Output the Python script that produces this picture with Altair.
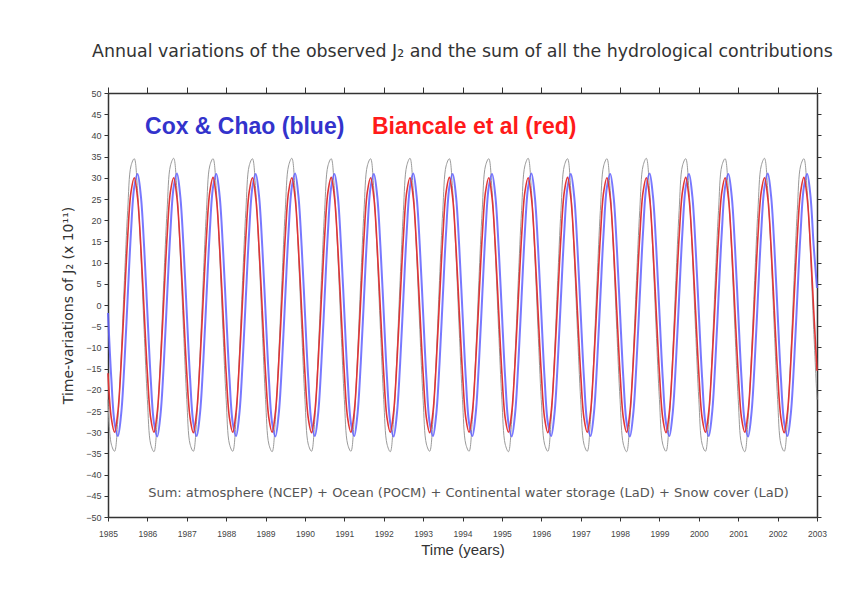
import altair as alt
import pandas as pd

# ---------------- data (monthly samples) ----------------
START_YEAR = 1985
SAMPLES_PER_YEAR = 12

# observed J2 (grey), one row per year, Jan..Dec
observed_rows = [
    [-22.3, -32.8, -34.5, -27.0, -12.2, 5.8, 22.3, 32.8, 34.5, 27.0, 12.2, -5.8],  # 1985
    [-22.3, -32.8, -34.6, -27.0, -12.2, 5.8, 22.3, 32.8, 34.6, 27.0, 12.2, -5.8],  # 1986
    [-22.3, -32.8, -34.5, -27.0, -12.2, 5.8, 22.3, 32.8, 34.5, 27.0, 12.2, -5.8],  # 1987
    [-22.3, -32.8, -34.5, -27.0, -12.2, 5.8, 22.3, 32.8, 34.5, 27.0, 12.2, -5.8],  # 1988
    [-22.3, -32.8, -34.6, -27.0, -12.2, 5.8, 22.3, 32.8, 34.6, 27.0, 12.2, -5.8],  # 1989
    [-22.3, -32.8, -34.5, -27.0, -12.2, 5.8, 22.3, 32.8, 34.5, 27.0, 12.2, -5.8],  # 1990
    [-22.3, -32.8, -34.5, -27.0, -12.2, 5.8, 22.3, 32.8, 34.5, 27.0, 12.2, -5.8],  # 1991
    [-22.3, -32.8, -34.6, -27.0, -12.2, 5.8, 22.3, 32.8, 34.6, 27.0, 12.2, -5.8],  # 1992
    [-22.3, -32.8, -34.5, -27.0, -12.2, 5.8, 22.3, 32.8, 34.5, 27.0, 12.2, -5.8],  # 1993
    [-22.3, -32.8, -34.5, -27.0, -12.2, 5.8, 22.3, 32.8, 34.5, 27.0, 12.2, -5.8],  # 1994
    [-22.3, -32.8, -34.6, -27.0, -12.2, 5.8, 22.3, 32.8, 34.6, 27.0, 12.2, -5.8],  # 1995
    [-22.3, -32.8, -34.5, -27.0, -12.2, 5.8, 22.3, 32.8, 34.5, 27.0, 12.2, -5.8],  # 1996
    [-22.3, -32.8, -34.5, -27.0, -12.2, 5.8, 22.3, 32.8, 34.5, 27.0, 12.2, -5.8],  # 1997
    [-22.3, -32.8, -34.6, -27.0, -12.2, 5.8, 22.3, 32.8, 34.6, 27.0, 12.2, -5.8],  # 1998
    [-22.3, -32.8, -34.5, -27.0, -12.2, 5.8, 22.3, 32.8, 34.5, 27.0, 12.2, -5.8],  # 1999
    [-22.3, -32.8, -34.5, -27.0, -12.2, 5.8, 22.3, 32.8, 34.5, 27.0, 12.2, -5.8],  # 2000
    [-22.3, -32.8, -34.6, -27.0, -12.2, 5.8, 22.3, 32.8, 34.6, 27.0, 12.2, -5.8],  # 2001
    [-22.3, -32.8, -34.5, -27.0, -12.2, 5.8, 22.3, 32.8, 34.5, 27.0, 12.2, -5.8],  # 2002
]
observed_last = -22.3  # 2003.0

# Cox & Chao (blue)
cox_chao_rows = [
    [-1.9, -17.2, -27.8, -30.9, -25.8, -13.8, 1.9, 17.2, 27.8, 30.9, 25.8, 13.8],
    [-1.9, -17.2, -27.8, -31.0, -25.8, -13.8, 1.9, 17.2, 27.8, 31.0, 25.8, 13.8],
    [-1.9, -17.2, -27.8, -30.9, -25.8, -13.8, 1.9, 17.2, 27.8, 30.9, 25.8, 13.8],
    [-1.9, -17.2, -27.8, -30.9, -25.8, -13.8, 1.9, 17.2, 27.8, 30.9, 25.8, 13.8],
    [-1.9, -17.2, -27.8, -31.0, -25.8, -13.8, 1.9, 17.2, 27.8, 31.0, 25.8, 13.8],
    [-1.9, -17.2, -27.8, -30.9, -25.8, -13.8, 1.9, 17.2, 27.8, 30.9, 25.8, 13.8],
    [-1.9, -17.2, -27.8, -30.9, -25.8, -13.8, 1.9, 17.2, 27.8, 30.9, 25.8, 13.8],
    [-1.9, -17.2, -27.8, -31.0, -25.8, -13.8, 1.9, 17.2, 27.8, 31.0, 25.8, 13.8],
    [-1.9, -17.2, -27.8, -30.9, -25.8, -13.8, 1.9, 17.2, 27.8, 30.9, 25.8, 13.8],
    [-1.9, -17.2, -27.8, -30.9, -25.8, -13.8, 1.9, 17.2, 27.8, 30.9, 25.8, 13.8],
    [-1.9, -17.2, -27.8, -31.0, -25.8, -13.8, 1.9, 17.2, 27.8, 31.0, 25.8, 13.8],
    [-1.9, -17.2, -27.8, -30.9, -25.8, -13.8, 1.9, 17.2, 27.8, 30.9, 25.8, 13.8],
    [-1.9, -17.2, -27.8, -30.9, -25.8, -13.8, 1.9, 17.2, 27.8, 30.9, 25.8, 13.8],
    [-1.9, -17.2, -27.8, -31.0, -25.8, -13.8, 1.9, 17.2, 27.8, 31.0, 25.8, 13.8],
    [-1.9, -17.2, -27.8, -30.9, -25.8, -13.8, 1.9, 17.2, 27.8, 30.9, 25.8, 13.8],
    [-1.9, -17.2, -27.8, -30.9, -25.8, -13.8, 1.9, 17.2, 27.8, 30.9, 25.8, 13.8],
    [-1.9, -17.2, -27.8, -31.0, -25.8, -13.8, 1.9, 17.2, 27.8, 31.0, 25.8, 13.8],
    [-1.9, -17.2, -27.8, -30.9, -25.8, -13.8, 1.9, 17.2, 27.8, 30.9, 25.8, 13.8],
]
cox_chao_last = 4.0

# Biancale et al (red)
biancale_rows = [
    [-16.1, -26.6, -30.0, -25.3, -13.9, 1.3, 16.1, 26.6, 30.0, 25.3, 13.9, -1.3],
    [-16.1, -26.6, -30.0, -25.3, -13.9, 1.3, 16.1, 26.6, 30.0, 25.3, 13.9, -1.3],
    [-16.1, -26.6, -30.1, -25.3, -13.9, 1.3, 16.1, 26.6, 30.1, 25.3, 13.9, -1.3],
    [-16.1, -26.6, -30.0, -25.3, -13.9, 1.3, 16.1, 26.6, 30.0, 25.3, 13.9, -1.3],
    [-16.1, -26.6, -30.0, -25.3, -13.9, 1.3, 16.1, 26.6, 30.0, 25.3, 13.9, -1.3],
    [-16.1, -26.6, -30.1, -25.3, -13.9, 1.3, 16.1, 26.6, 30.1, 25.3, 13.9, -1.3],
    [-16.1, -26.6, -30.0, -25.3, -13.9, 1.3, 16.1, 26.6, 30.0, 25.3, 13.9, -1.3],
    [-16.1, -26.6, -30.0, -25.3, -13.9, 1.3, 16.1, 26.6, 30.0, 25.3, 13.9, -1.3],
    [-16.1, -26.6, -30.1, -25.3, -13.9, 1.3, 16.1, 26.6, 30.1, 25.3, 13.9, -1.3],
    [-16.1, -26.6, -30.0, -25.3, -13.9, 1.3, 16.1, 26.6, 30.0, 25.3, 13.9, -1.3],
    [-16.1, -26.6, -30.0, -25.3, -13.9, 1.3, 16.1, 26.6, 30.0, 25.3, 13.9, -1.3],
    [-16.1, -26.6, -30.1, -25.3, -13.9, 1.3, 16.1, 26.6, 30.1, 25.3, 13.9, -1.3],
    [-16.1, -26.6, -30.0, -25.3, -13.9, 1.3, 16.1, 26.6, 30.0, 25.3, 13.9, -1.3],
    [-16.1, -26.6, -30.0, -25.3, -13.9, 1.3, 16.1, 26.6, 30.0, 25.3, 13.9, -1.3],
    [-16.1, -26.6, -30.1, -25.3, -13.9, 1.3, 16.1, 26.6, 30.1, 25.3, 13.9, -1.3],
    [-16.1, -26.6, -30.0, -25.3, -13.9, 1.3, 16.1, 26.6, 30.0, 25.3, 13.9, -1.3],
    [-16.1, -26.6, -30.0, -25.3, -13.9, 1.3, 16.1, 26.6, 30.0, 25.3, 13.9, -1.3],
    [-16.1, -26.6, -30.1, -25.3, -13.9, 1.3, 16.1, 26.6, 30.1, 25.3, 13.9, -1.3],
]
biancale_last = -15.5

year_ticks = list(range(1985, 2004))
value_ticks = list(range(-50, 55, 5))

title_text = "Annual variations of the observed J\u2082 and the sum of all the hydrological contributions"
y_title = "Time-variations of J\u2082 (x 10\u00b9\u00b9)"
x_title = "Time (years)"

label_text = ["Cox & Chao (blue)", "Biancale et al (red)"]
label_year = [1985.94, 1991.70]
label_value = [42.0, 42.0]
label_color = ["#3333cc", "#ff1a1a"]

note_text = ["Sum: atmosphere (NCEP) + Ocean (POCM) + Continental water storage (LaD) + Snow cover (LaD)"]
note_year = [1986.02]
note_value = [-44.3]


def flatten(rows, last):
    out = [v for row in rows for v in row]
    out.append(last)
    return out


def series_frame(rows, last):
    vals = flatten(rows, last)
    return pd.DataFrame({
        "year": [START_YEAR + i / SAMPLES_PER_YEAR for i in range(len(vals))],
        "value": vals,
    })


obs_df = series_frame(observed_rows, observed_last)
cox_df = series_frame(cox_chao_rows, cox_chao_last)
bia_df = series_frame(biancale_rows, biancale_last)
label_df = pd.DataFrame({"year": label_year, "value": label_value, "text": label_text, "color": label_color})
note_df = pd.DataFrame({"year": note_year, "value": note_value, "text": note_text})

# ---------------- scales / axes ----------------
xscale = alt.Scale(domain=[1985, 2003], nice=False, zero=False)
yscale = alt.Scale(domain=[-50, 50], nice=False, zero=False)

AX = dict(
    labelFont="Liberation Sans", labelColor="#444444", tickColor="#333333",
    domainColor="#333333", domainWidth=1.5, tickWidth=1, grid=False,
)

x_bottom = alt.Axis(
    orient="bottom", values=year_ticks, format="d", labelFontSize=8.5,
    tickSize=4, labelPadding=8, title=x_title, titleFont="Liberation Sans",
    titleFontSize=15, titleFontWeight="normal", titleColor="#333333",
    titlePadding=5, labelFlush=False, labelOverlap=False, **AX)
y_left = alt.Axis(
    orient="left", values=value_ticks, labelFontSize=9, tickSize=4,
    labelPadding=3, title=y_title, titleFont="DejaVu Sans",
    titleFontSize=14, titleFontWeight="normal", titleColor="#333333",
    titlePadding=10, labelFlush=False, labelOverlap=False, **AX)
x_top = alt.Axis(orient="top", values=year_ticks, labels=False, tickSize=6, title=None, **AX)
y_right = alt.Axis(orient="right", values=value_ticks, labels=False, tickSize=4, title=None, **AX)

observed_layer = alt.Chart(obs_df).mark_line(
    color="#9a9a9a", strokeWidth=1, interpolate="catmull-rom"
).encode(
    x=alt.X("year:Q", scale=xscale, axis=x_bottom),
    y=alt.Y("value:Q", scale=yscale, axis=y_left),
)

cox_layer = alt.Chart(cox_df).mark_line(
    color="#6060ff", strokeWidth=2, opacity=0.85, interpolate="catmull-rom"
).encode(
    x=alt.X("year:Q", scale=xscale, axis=x_top),
    y=alt.Y("value:Q", scale=yscale, axis=y_right),
)

bia_layer = alt.Chart(bia_df).mark_line(
    color="#e03535", strokeWidth=1.6, interpolate="catmull-rom"
).encode(
    x=alt.X("year:Q", scale=xscale, axis=None),
    y=alt.Y("value:Q", scale=yscale, axis=None),
)

labels_layer = alt.Chart(label_df).mark_text(
    font="Liberation Sans", fontSize=23, fontWeight="bold", align="left", baseline="middle"
).encode(
    x=alt.X("year:Q", scale=xscale, axis=None),
    y=alt.Y("value:Q", scale=yscale, axis=None),
    text="text:N",
    color=alt.Color("color:N", scale=None),
)

note_layer = alt.Chart(note_df).mark_text(
    font="DejaVu Sans", fontSize=13, color="#555555", align="left", baseline="middle"
).encode(
    x=alt.X("year:Q", scale=xscale, axis=None),
    y=alt.Y("value:Q", scale=yscale, axis=None),
    text="text:N",
)

chart = alt.layer(
    observed_layer, cox_layer, bia_layer, labels_layer, note_layer
).resolve_axis(
    x="independent", y="independent"
).properties(
    width=709,
    height=424,
    autosize=alt.AutoSizeParams(type="none"),
    padding={"left": 100, "top": 85, "right": 25, "bottom": 65},
    background="white",
    title=alt.TitleParams(
        text=title_text, font="DejaVu Sans", fontSize=17.4, fontWeight="normal",
        color="#333333", anchor="middle", offset=26,
    ),
).configure_view(
    stroke=None
)

chart.save("out.html", embed_options={"renderer": "svg", "actions": False})
